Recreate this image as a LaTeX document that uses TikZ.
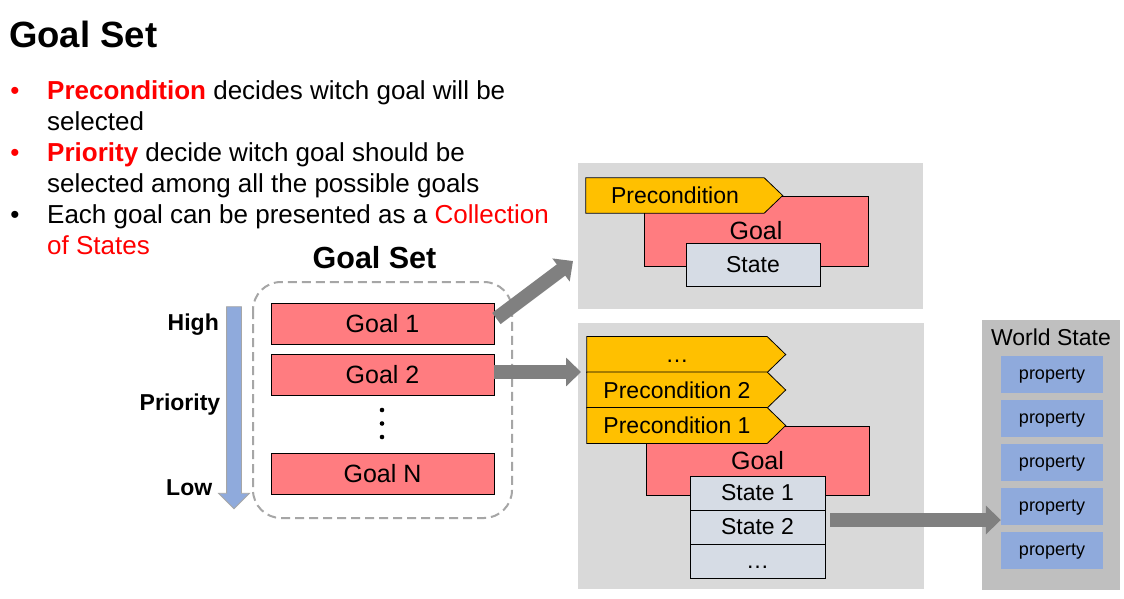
\documentclass[tikz,border=0pt]{standalone}
\usepackage{fontspec}
\setmainfont{Liberation Sans}
\usetikzlibrary{calc,arrows.meta,shapes.arrows}
\definecolor{goalred}{HTML}{FF7C80}
\definecolor{tagyellow}{HTML}{FFC000}
\definecolor{statebg}{HTML}{D6DCE5}
\definecolor{panelgray}{HTML}{D9D9D9}
\definecolor{worldgray}{HTML}{BFBFBF}
\definecolor{propblue}{HTML}{8FAADC}
\definecolor{arrowgray}{HTML}{808080}
\definecolor{dashgray}{HTML}{A6A6A6}
\definecolor{textred}{HTML}{FF0000}
\newcommand{\tagtip}[1]{%
  \fill[tagyellow] (#1.north east) -- ($(#1.east)+(18.5,0)$) -- (#1.south east) -- cycle;
  \draw[line width=0.8pt] (#1.north west) -- (#1.north east) -- ($(#1.east)+(18.5,0)$) -- (#1.south east) -- (#1.south west) -- cycle;}
\begin{document}
\begin{tikzpicture}[x=1pt, y=-1pt,
    ttl/.style={font=\fontsize{36.5}{44}\selectfont\bfseries, inner sep=0},
    para/.style={font=\fontsize{26}{31}\selectfont, align=left, inner sep=0},
    label/.style={font=\fontsize{23}{28}\selectfont\bfseries, inner sep=0},
    goalbox/.style={fill=goalred, draw=black, line width=0.8pt, minimum width=223, minimum height=41, inner sep=0, font=\fontsize{25}{30}\selectfont},
    bigbox/.style={fill=goalred, draw=black, line width=0.8pt, minimum width=224, minimum height=70, inner sep=0, font=\fontsize{25}{30}\selectfont},
    statebox/.style={fill=statebg, draw=black, line width=0.8pt, minimum width=135, minimum height=34, inner sep=0, font=\fontsize{23}{28}\selectfont},
    tagbox/.style={fill=tagyellow, minimum width=180, minimum height=35.5, inner sep=0, font=\fontsize{23}{28}\selectfont},
    panel/.style={fill=panelgray, inner sep=0},
    propbox/.style={fill=propblue, minimum width=102, minimum height=37, inner sep=0, text height=1.15em, text depth=0.21em, font=\fontsize{18}{22}\selectfont},
    bigarrow/.style={line width=14pt, draw=arrowgray, -{Triangle[length=15pt, width=28pt]}}
  ]
  \fill[white] (0,0) rectangle (1124,598);
  \useasboundingbox (0,0) rectangle (1124,598);

  \node[ttl, anchor=base west] (title) at (9,47) {Goal Set};
  \node[para, textred, anchor=base] (b1) at (15,99) {•};
  \node[para, textred, anchor=base] (b2) at (15,161) {•};
  \node[para, anchor=base] (b3) at (15,223) {•};
  \node[para, anchor=base west] (t1) at (47,130) {\textcolor{textred}{\textbf{Precondition}} decides witch goal will be\\selected};
  \node[para, anchor=base west] (t2) at (47,192) {\textcolor{textred}{\textbf{Priority}} decide witch goal should be\\selected among all the possible goals};
  \node[para, anchor=base west] (t3) at (47,254) {Each goal can be presented as a \textcolor{textred}{Collection}\\\textcolor{textred}{of States}};

  \node[ttl, font=\fontsize{30.5}{36}\selectfont\bfseries, anchor=base] (settitle) at (374.5,268) {Goal Set};
  \draw[dashgray, line width=2pt, dash pattern=on 9pt off 5pt, rounded corners=28] (253,282) rectangle (512,518);
  \node[goalbox] (goal1) at (382.5,323.5) {Goal 1};
  \node[goalbox] (goal2) at (382.5,375) {Goal 2};
  \node[goalbox] (goalN) at (382.5,473.5) {Goal N};
  \foreach \y in {410,423.5,437}
    \fill (382,\y) circle (2.3);

  \node[single arrow, rotate=-90, fill=propblue, draw=dashgray, line width=0.8pt, minimum height=202, inner sep=7pt, single arrow head extend=8pt, single arrow tip angle=90] (prio) at (234,404) {};
  \node[label, anchor=base east] (high) at (219,330) {High};
  \node[label, anchor=base] (prioname) at (180,410) {Priority};
  \node[label, anchor=base west] (low) at (166,495) {Low};

  \node[panel, minimum width=345, minimum height=146] (toppanel) at (750.5,236) {};
  \node[bigbox] (goaltop) at (756,231) {Goal};
  \node[tagbox, minimum width=178, minimum height=35] (pretop) at (675,195.5) {Precondition};
  \tagtip{pretop}
  \node[statebox, minimum width=134, minimum height=43] (statetop) at (753,264.5) {State};

  \node[panel, minimum width=346, minimum height=266] (botpanel) at (751,456) {};
  \node[bigbox, minimum width=223, minimum height=69] (goalbot) at (757.5,460.5) {Goal};
  \node[tagbox] (predots) at (677,354.5) {\vphantom{P}…};
  \tagtip{predots}
  \node[tagbox] (pre2) at (677,390) {Precondition 2};
  \tagtip{pre2}
  \node[tagbox] (pre1) at (677,425.5) {Precondition 1};
  \tagtip{pre1}
  \node[statebox] (s1) at (757.5,493) {State 1};
  \node[statebox] (s2) at (757.5,527) {State 2};
  \node[statebox] (s3) at (757.5,561) {\vphantom{S}…};

  \node[fill=worldgray, minimum width=138, minimum height=270, inner sep=0] (world) at (1051,455) {};
  \node[font=\fontsize{23}{28}\selectfont, anchor=base] (worldname) at (1051,345) {World State};
  \foreach \i in {1,...,5}
    \node[propbox] (p\i) at ({1052},{374.5+44*(\i-1)}) {property};

  \coordinate (a1end) at (573,261);
  \coordinate (a2end) at (581,372);
  \coordinate (a3start) at ($(s2.east)+(5,-7)$);
  \draw[bigarrow] ($(goal1.east)+(2,-5)$) -- (a1end);
  \draw[bigarrow] ($(goal2.east)+(0,-3)$) -- (a2end);
  \draw[bigarrow] (a3start) -- (a3start -| p4.west);
\end{tikzpicture}
\end{document}
